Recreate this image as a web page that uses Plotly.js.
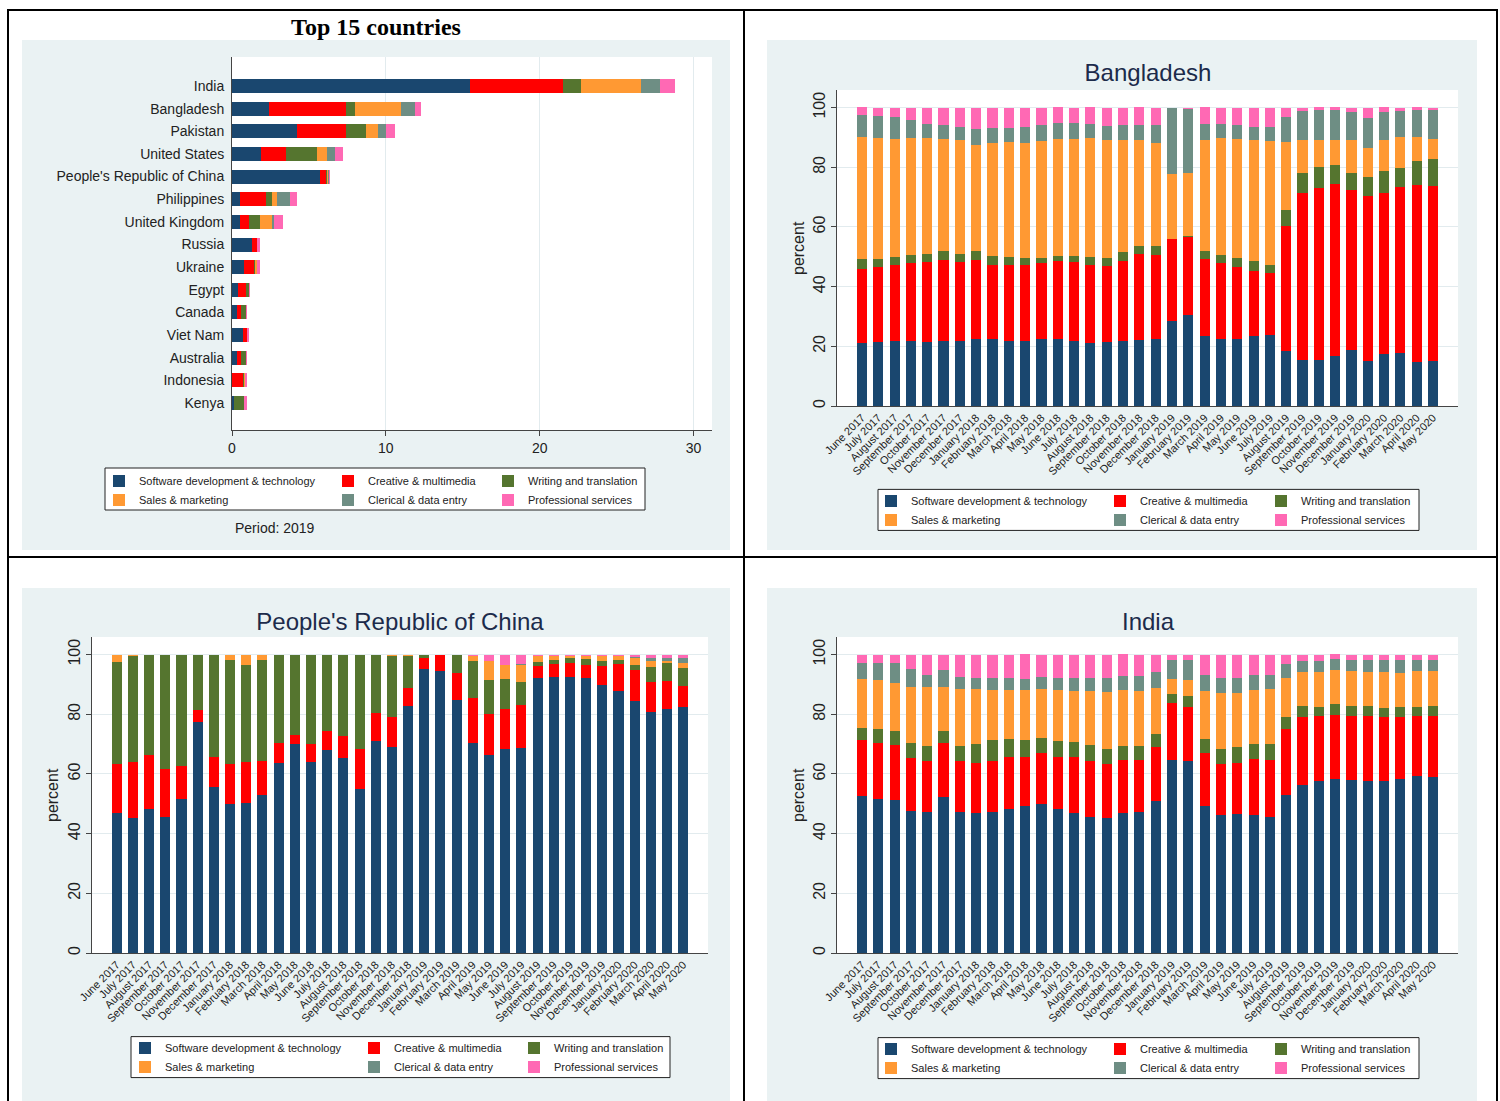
<!DOCTYPE html>
<html><head><meta charset="utf-8">
<script src="https://cdn.plot.ly/plotly-3.0.1.min.js"></script>
<style>
body{margin:0;background:#fff;width:1500px;height:1101px;position:relative;overflow:hidden;font-family:"Liberation Sans",Arial,sans-serif;}
.panel{position:absolute;}
.line{position:absolute;background:#000;}
#maintitle{position:absolute;left:8px;width:736px;top:12px;height:30px;line-height:30px;text-align:center;font-family:"Liberation Serif","Times New Roman",serif;font-weight:bold;font-size:24px;color:#000;}
</style></head><body>
<div class="line" style="left:7px;top:9px;width:1491px;height:2px"></div>
<div class="line" style="left:7px;top:556px;width:1491px;height:2px"></div>
<div class="line" style="left:7px;top:9px;width:2px;height:1092px"></div>
<div class="line" style="left:743px;top:9px;width:2px;height:1092px"></div>
<div class="line" style="left:1496px;top:9px;width:2px;height:1092px"></div>
<div id="maintitle">Top 15 countries</div>
<div id="p1" class="panel"></div>
<div id="p2" class="panel"></div>
<div id="p3" class="panel"></div>
<div id="p4" class="panel"></div>
<script>
// ---------- categories ----------
const seriesNames = ["Software development & technology","Creative & multimedia","Writing and translation","Sales & marketing","Clerical & data entry","Professional services"];
const seriesColors = ["#1a476f","#ff0000","#55752f","#ff9933","#6e8e84","#ff69b4"];
const months = ["June 2017","July 2017","August 2017","September 2017","October 2017","November 2017","December 2017","January 2018","February 2018","March 2018","April 2018","May 2018","June 2018","July 2018","August 2018","September 2018","October 2018","November 2018","December 2018","January 2019","February 2019","March 2019","April 2019","May 2019","June 2019","July 2019","August 2019","September 2019","October 2019","November 2019","December 2019","January 2020","February 2020","March 2020","April 2020","May 2020"];
const countries = ["India","Bangladesh","Pakistan","United States","People's Republic of China","Philippines","United Kingdom","Russia","Ukraine","Egypt","Canada","Viet Nam","Australia","Indonesia","Kenya"];

// ---------- Top 15 countries (Period: 2019) ----------
const top_software = [15.5,2.4,4.2,1.9,5.7,0.5,0.5,1.3,0.8,0.4,0.3,0.7,0.3,0.03,0.1];
const top_creative = [6.0,5.0,3.2,1.6,0.4,1.7,0.6,0.3,0.6,0.5,0.3,0.3,0.3,0.7,0.0];
const top_writing  = [1.2,0.6,1.3,2.0,0.1,0.4,0.7,0.05,0.1,0.2,0.3,0.0,0.3,0.05,0.7];
const top_sales    = [3.9,3.0,0.8,0.7,0.05,0.3,0.8,0.0,0.1,0.0,0.0,0.0,0.0,0.05,0.0];
const top_clerical = [1.2,0.9,0.5,0.5,0.05,0.9,0.1,0.0,0.0,0.0,0.0,0.0,0.0,0.0,0.0];
const top_prof     = [1.0,0.4,0.6,0.5,0.1,0.4,0.6,0.15,0.2,0.1,0.1,0.1,0.1,0.15,0.2];

// ---------- Bangladesh ----------
const bd_software = [21.1,21.5,21.8,21.7,21.4,21.7,21.7,22.3,22.3,21.9,21.8,22.3,22.5,21.7,21.2,21.3,21.9,22.2,22.3,28.4,30.6,23.3,22.5,22.5,23.3,23.7,18.3,15.3,15.3,16.6,18.7,15.0,17.4,17.8,14.6,15.0];
const bd_creative = [24.9,25.0,25.4,26.3,26.9,27.1,26.5,26.5,25.0,25.5,25.6,25.6,26.0,26.4,26.2,25.6,26.8,28.6,28.4,27.5,26.1,26.1,25.5,24.1,21.8,20.9,41.9,56.1,57.6,57.8,53.6,55.5,53.9,55.5,59.5,58.8];
const bd_writing  = [3.1,2.8,2.6,2.7,2.8,3.0,2.9,3.0,3.0,2.6,2.1,1.8,1.9,2.2,2.4,2.6,2.8,2.9,2.9,0.2,0.2,2.6,2.7,3.1,3.4,2.8,5.5,6.8,7.1,6.2,5.7,6.4,7.4,6.6,8.1,9.0];
const bd_sales    = [40.9,40.5,39.6,39.1,38.7,37.8,38.0,35.8,37.7,38.4,38.5,39.1,39.2,39.3,39.9,39.6,37.6,35.3,34.7,21.8,21.2,37.2,39.1,39.8,40.5,41.5,22.8,10.9,9.2,8.5,11.3,9.5,10.5,10.4,7.8,6.7];
const bd_clerical = [7.5,7.4,7.6,6.0,4.6,4.7,4.4,5.2,5.0,4.9,5.5,5.4,5.3,5.2,4.8,4.8,5.0,5.3,5.8,21.9,21.6,5.3,4.6,4.7,4.6,4.5,8.4,9.9,10.1,10.2,9.2,10.2,9.4,8.6,9.2,9.7];
const bd_prof     = [2.6,2.8,2.9,4.1,5.6,5.6,6.5,7.2,6.9,6.6,6.4,5.8,5.2,5.2,5.6,6.0,5.8,5.8,5.8,0.0,0.3,5.6,5.6,5.8,6.4,6.5,3.1,1.0,0.8,0.8,1.5,3.4,1.5,1.0,0.9,0.8];

// ---------- People's Republic of China ----------
const cn_software = [47.0,45.1,48.4,45.6,51.6,77.4,55.6,50.1,50.2,52.9,63.8,70.2,63.9,68.1,65.5,54.9,71.1,69.1,82.7,95.3,94.4,84.8,70.5,66.4,68.2,68.6,92.3,92.5,92.5,92.2,89.8,87.9,84.6,80.9,81.8,82.4];
const cn_creative = [16.2,18.8,17.9,15.9,11.2,3.9,10.2,13.4,13.8,11.4,6.7,3.0,6.0,6.4,7.3,13.4,9.4,10.0,6.0,3.7,5.6,8.9,14.8,13.7,13.7,14.5,3.8,4.3,4.7,4.4,6.3,8.9,10.1,9.8,9.4,7.1];
const cn_writing  = [34.2,35.5,33.7,38.5,37.2,18.7,34.2,34.8,32.6,33.8,29.5,26.8,30.1,25.5,27.2,31.7,19.5,20.5,10.7,0.8,0.0,6.3,12.4,11.5,9.8,7.6,1.4,1.4,1.6,1.8,1.7,1.5,1.8,5.0,5.9,5.9];
const cn_sales    = [2.6,0.6,0,0,0,0,0,1.7,3.4,1.9,0,0,0,0,0,0,0,0.4,0.6,0.2,0,0,1.7,6.4,4.9,5.8,1.9,1.4,0.8,1.0,1.6,1.1,2.5,2.2,0.7,1.8];
const cn_clerical = [0,0,0,0,0,0,0,0,0,0,0,0,0,0,0,0,0,0,0,0,0,0,0,0,0,0.3,0,0,0,0,0,0,0.3,0.9,1.0,1.5];
const cn_prof     = [0,0,0,0,0,0,0,0,0,0,0,0,0,0,0,0,0,0,0,0,0,0,0.6,2.0,3.4,3.2,0.6,0.4,0.4,0.6,0.6,0.6,0.7,1.2,1.2,1.3];

// ---------- India ----------
const in_software = [52.6,51.6,51.3,47.7,47.4,52.3,47.4,46.8,47.4,48.4,49.1,50.1,48.2,46.8,45.7,45.1,47.0,47.2,50.9,64.8,64.4,49.4,46.3,46.5,46.2,45.6,52.8,56.4,57.5,58.3,57.9,57.8,57.8,58.4,59.2,59.1];
const in_creative = [18.8,18.9,18.5,17.8,17.0,18.1,16.9,16.9,17.1,17.3,16.7,16.8,17.4,18.8,18.7,18.3,17.8,17.4,18.0,19.0,18.2,17.6,17.2,17.1,18.7,19.0,22.3,22.7,22.0,21.6,21.4,21.5,21.3,20.7,20.1,20.2];
const in_writing  = [4.1,4.5,4.7,4.9,4.9,4.0,5.1,6.5,6.8,5.9,5.7,5.3,5.5,5.0,5.3,5.1,4.6,4.7,4.4,3.0,3.5,4.8,5.0,5.4,5.3,5.3,3.9,3.6,3.1,3.4,3.4,3.4,3.1,3.4,3.2,3.5];
const in_sales    = [16.3,16.4,16.0,18.9,19.7,14.9,19.2,18.2,17.0,16.6,16.8,16.4,17.2,17.3,18.1,19.0,18.7,18.5,15.5,5.0,5.3,15.9,18.5,18.2,17.8,18.5,13.0,11.4,11.6,11.5,11.7,11.5,11.9,11.5,12.0,11.6];
const in_clerical = [5.4,5.8,6.7,5.9,4.3,5.4,3.8,3.9,4.0,3.8,3.5,3.8,3.7,4.1,4.5,4.7,4.7,5.0,5.3,6.5,6.7,5.5,5.1,5.0,5.0,4.9,4.9,3.9,3.8,3.6,3.7,3.9,4.0,4.1,3.6,3.7];
const in_prof     = [2.8,2.8,2.8,4.8,6.7,5.3,7.5,7.7,7.6,7.9,8.3,7.6,7.9,7.9,7.7,7.7,7.3,7.2,5.9,1.7,1.9,6.8,7.8,7.7,7.0,6.7,3.1,2.0,1.9,1.7,1.9,1.9,1.9,1.9,1.9,1.9];

// ---------- drawing helpers ----------
const FONT = '"Liberation Sans", Arial, sans-serif';
const BG = '#eaf2f3';
const GRID = '#e2ebee';
const AXIS = '#444';
const legendOf = ['legend','legend2','legend3','legend','legend2','legend3'];

function place(id, P){
  const el = document.getElementById(id);
  el.style.left = P.left+'px'; el.style.top = P.top+'px';
  el.style.width = P.W+'px'; el.style.height = P.H+'px';
}
function px(P, pageX){ return (pageX - P.left - P.l)/(P.W - P.l - P.r); }
function py(P, pageY){ const h = P.H - P.t - P.b; return 1 - (pageY - P.top - P.t)/h; }
function cx(P, pageX){ return (pageX - P.left)/P.W; }
function cy(P, pageY){ return 1 - (pageY - P.top)/P.H; }

function legendSetup(P, L, layout){
  layout.shapes = [{type:'rect', xref:'paper', yref:'paper', layer:'below',
    x0:px(P,L.box[0]), x1:px(P,L.box[1]), y0:py(P,L.box[3]), y1:py(P,L.box[2]),
    line:{color:'#222', width:1}, fillcolor:'#ffffff'}];
  ['legend','legend2','legend3'].forEach((k,i)=>{
    layout[k] = {xref:'container', yref:'container', x:cx(P,L.textX[i]-40), y:cy(P,L.row1-14.5),
      xanchor:'left', yanchor:'top', orientation:'v', traceorder:'normal',
      bgcolor:'rgba(0,0,0,0)', borderwidth:0, font:{family:FONT, size:11, color:'#222'}};
  });
}

function makeTraces(vals, cats, horizontal){
  return vals.map((v,i)=>{
    const t = {type:'bar', name:seriesNames[i], marker:{color:seriesColors[i], line:{width:0}},
      legend:legendOf[i], hoverinfo:'skip'};
    if(horizontal){ t.orientation='h'; t.x=v; t.y=cats; } else { t.x=cats; t.y=v; }
    return t;
  });
}

function monthlyPanel(id, P, title, titleX, titleY, yTitleX, vals, L){
  place(id, P);
  const layout = {
    width:P.W, height:P.H, margin:{l:P.l, r:P.r, t:P.t, b:P.b, autoexpand:false},
    paper_bgcolor:BG, plot_bgcolor:'#ffffff', barmode:'stack', bargap:0.38,
    font:{family:FONT, color:'#222'},
    title:{text:title, xref:'container', yref:'container', x:cx(P,titleX), y:cy(P,titleY),
      xanchor:'center', yanchor:'middle', font:{family:FONT, size:24, color:'#1c2b4b'}},
    xaxis:{type:'category', categoryarray:months, range:[-1.53, 36.53], tickangle:-45,
      tickfont:{family:FONT, size:11, color:'#222'}, showline:true, linecolor:AXIS, linewidth:1,
      ticks:'', showgrid:false, zeroline:false, fixedrange:true},
    yaxis:{range:[0,105.9], tickvals:[0,20,40,60,80,100], ticktext:['0','20','40','60','80','100'],
      tickangle:-90, tickfont:{family:FONT, size:16, color:'#222'},
      showline:true, linecolor:AXIS, linewidth:1, ticks:'outside', ticklen:5, tickcolor:AXIS,
      showgrid:true, gridcolor:GRID, gridwidth:1, zeroline:false},
    annotations:[{text:'percent', xref:'paper', yref:'paper', x:px(P,yTitleX), y:0.5,
      xanchor:'center', yanchor:'middle', textangle:-90, showarrow:false,
      font:{family:FONT, size:16, color:'#222'}}],
    showlegend:true
  };
  legendSetup(P, L, layout);
  Plotly.newPlot(id, makeTraces(vals, months, false), layout, {staticPlot:true, displayModeBar:false});
}

// ---------- Panel 1: Top 15 countries ----------
const P1 = {left:22, top:40, W:708, H:510, l:210, r:18, t:17, b:120};
place('p1', P1);
const layout1 = {
  width:P1.W, height:P1.H, margin:{l:P1.l, r:P1.r, t:P1.t, b:P1.b, autoexpand:false},
  paper_bgcolor:BG, plot_bgcolor:'#ffffff', barmode:'stack', bargap:0.38,
  font:{family:FONT, color:'#222'},
  xaxis:{range:[0,31.2], tickvals:[0,10,20,30], tickfont:{family:FONT, size:14, color:'#222'},
    showline:true, linecolor:AXIS, linewidth:1, ticks:'outside', ticklen:5, tickcolor:AXIS,
    showgrid:true, gridcolor:GRID, zeroline:false},
  yaxis:{type:'category', categoryarray:countries, range:[15.19,-1.28],
    tickfont:{family:FONT, size:14, color:'#222'}, showline:true, linecolor:AXIS, linewidth:1,
    ticks:'', ticklabelstandoff:4, showgrid:false, zeroline:false},
  annotations:[{text:'Period: 2019', xref:'paper', yref:'paper', x:px(P1,275), y:py(P1,528),
    xanchor:'center', yanchor:'middle', showarrow:false, font:{family:FONT, size:14, color:'#222'}}],
  showlegend:true
};
legendSetup(P1, {box:[105,645,468,510], textX:[139,368,528], row1:481}, layout1);
Plotly.newPlot('p1', makeTraces([top_software,top_creative,top_writing,top_sales,top_clerical,top_prof], countries, true), layout1, {staticPlot:true, displayModeBar:false});

// ---------- Panel 2: Bangladesh ----------
monthlyPanel('p2', {left:767, top:40, W:710, H:510, l:70, r:19, t:50, b:144.3}, 'Bangladesh', 1148, 73, 798,
  [bd_software,bd_creative,bd_writing,bd_sales,bd_clerical,bd_prof],
  {box:[878,1419,489,530], textX:[911,1140,1301], row1:501});

// ---------- Panel 3: China ----------
monthlyPanel('p3', {left:22, top:588, W:708, H:513, l:70, r:22, t:49, b:147.7}, "People's Republic of China", 400, 622, 52,
  [cn_software,cn_creative,cn_writing,cn_sales,cn_clerical,cn_prof],
  {box:[131,670,1037,1078], textX:[165,394,554], row1:1048});

// ---------- Panel 4: India ----------
monthlyPanel('p4', {left:767, top:588, W:710, H:513, l:70, r:19, t:49, b:147.7}, 'India', 1148, 622, 798,
  [in_software,in_creative,in_writing,in_sales,in_clerical,in_prof],
  {box:[878,1419,1038,1079], textX:[911,1140,1301], row1:1049});
</script>
</body></html>
